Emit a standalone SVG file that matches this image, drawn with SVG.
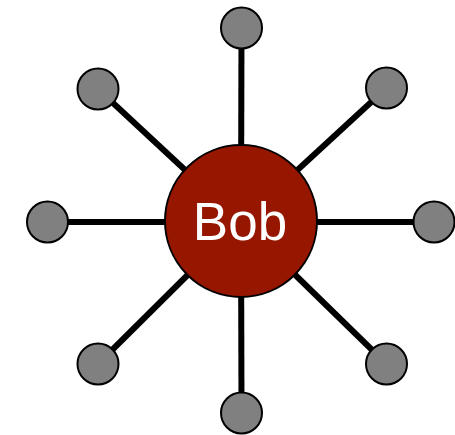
<svg xmlns="http://www.w3.org/2000/svg" width="455" height="435" viewBox="0 0 455 435">
<style>
.edge{stroke:#000;stroke-width:6;fill:none}
.leaf{fill:#808080;stroke:#000;stroke-width:2}
.hub{fill:#961600;stroke:#000;stroke-width:2}
.lbl{font-family:"Liberation Sans",Arial,sans-serif;font-size:53px;fill:#fff;text-anchor:middle}
</style>
<rect width="455" height="435" fill="#fff"/>
<g id="connectors">
<line class="edge" x1="241" y1="222" x2="241.5" y2="28"/>
<line class="edge" x1="241" y1="222" x2="386.5" y2="88"/>
<line class="edge" x1="241" y1="222" x2="434" y2="222"/>
<line class="edge" x1="241" y1="222" x2="386.5" y2="364"/>
<line class="edge" x1="241" y1="222" x2="241.5" y2="413"/>
<line class="edge" x1="241" y1="222" x2="98" y2="364"/>
<line class="edge" x1="241" y1="222" x2="47.5" y2="222"/>
<line class="edge" x1="241" y1="222" x2="98" y2="89"/>
</g>
<g id="n-top"><circle class="leaf" cx="241.5" cy="28" r="20.5"/></g>
<g id="n-topright"><circle class="leaf" cx="386.5" cy="88" r="20.5"/></g>
<g id="n-right"><circle class="leaf" cx="434" cy="222" r="20.5"/></g>
<g id="n-bottomright"><circle class="leaf" cx="386.5" cy="364" r="20.5"/></g>
<g id="n-bottom"><circle class="leaf" cx="241.5" cy="413" r="20.5"/></g>
<g id="n-bottomleft"><circle class="leaf" cx="98" cy="364" r="20.5"/></g>
<g id="n-left"><circle class="leaf" cx="47.5" cy="222" r="20.5"/></g>
<g id="n-topleft"><circle class="leaf" cx="98" cy="89" r="20.5"/></g>
<g id="n-bob">
<circle class="hub" cx="241" cy="221" r="76"/>
<text class="lbl" x="240" y="240">Bob</text>
</g>
</svg>
